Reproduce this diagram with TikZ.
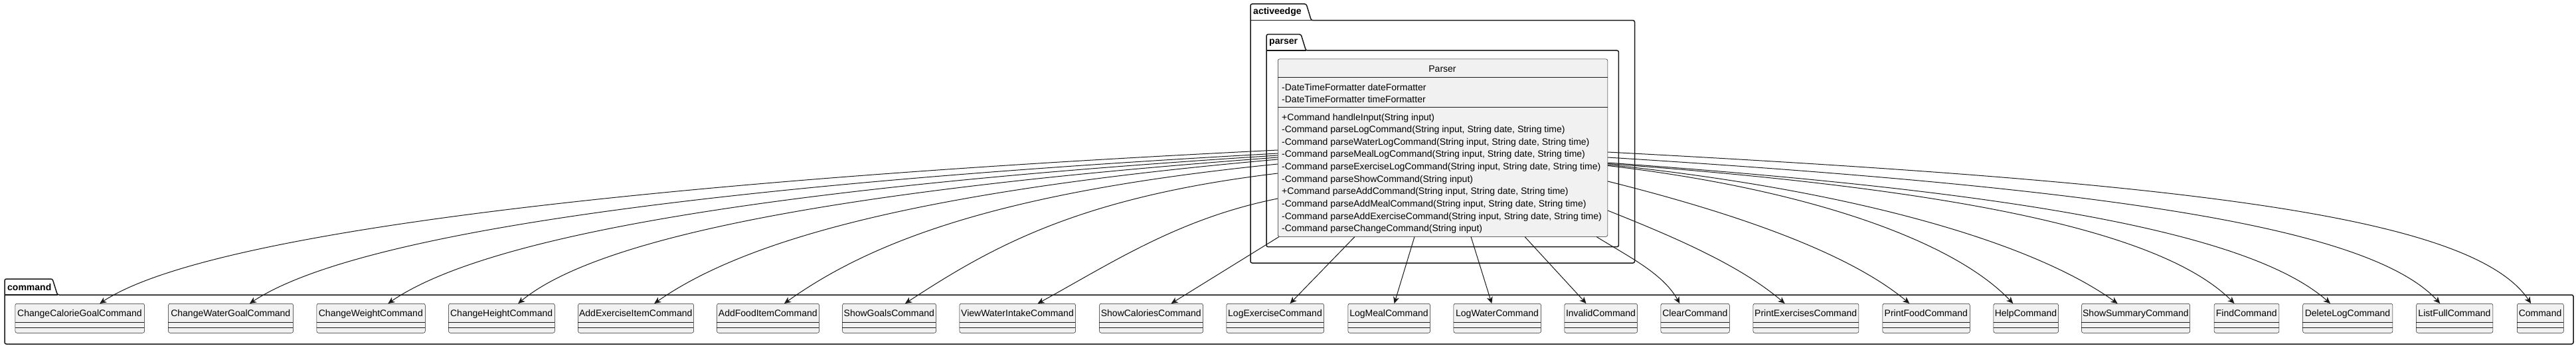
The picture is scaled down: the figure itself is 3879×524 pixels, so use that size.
\documentclass[tikz,border=0pt]{standalone}
\usepackage{fontspec}
\setmainfont{Liberation Sans}
\usetikzlibrary{arrows.meta}
\definecolor{ink}{HTML}{181818}
\definecolor{clsfill}{HTML}{F1F1F1}
\tikzset{
  clsbox/.style={draw=ink, line width=0.5pt, fill=clsfill, rounded corners=2.5pt, inner sep=0pt, anchor=north west},
  clstxt/.style={font=\fontsize{14}{16}\selectfont, inner sep=0pt, anchor=base, text=black},
  membertxt/.style={font=\fontsize{14}{16}\selectfont, inner sep=0pt, anchor=base west, text=black},
  sepline/.style={draw=ink, line width=0.5pt},
  pkgline/.style={draw=ink, line width=1.5pt, rounded corners=2.5pt},
  pkgtxt/.style={font=\fontsize{14}{16}\selectfont\bfseries, inner sep=0pt, anchor=west, text=black},
  dep/.style={draw=ink, line width=1pt, -{Stealth[length=10pt,width=9pt,inset=3pt]}},
}
% #1 x0, #2 x1, #3 tab top, #4 body top, #5 bottom, #6 tab width, #7 label
\newcommand\pkgdraw[7]{%
  \draw[pkgline] (#1,#5) -- (#1,#3) -- ({#1+#6},#3) -- ({#1+#6+7.5},#4) -- (#2,#4) -- (#2,#5) -- cycle;
  \draw[draw=ink, line width=1.5pt] (#1,#4) -- ({#1+#6+7.5},#4);
  \node[pkgtxt] at ({#1+4},{(#3+#4)/2}) {#7};
}
% #1 name, #2 left, #3 right, #4 label
\newcommand\cmdcls[4]{%
  \node[clsbox, minimum width={#3-#2}, minimum height=44] (#1) at (#2,457) {};
  \node[clstxt] (#1t) at ({(#2+#3)/2},476.5) {#4};
  \draw[sepline] (#2,485) -- (#3,485) (#2,493) -- (#3,493);
}
\begin{document}
\begin{tikzpicture}[x=1pt, y=-1pt]
\useasboundingbox (0,0) rectangle (3879,524);
\fill[white] (0,0) rectangle (3879,524);

% packages
\pkgdraw{1883}{2461.5}{6}{30.7}{396}{84}{activeedge}
\pkgdraw{1907}{2437.4}{51.7}{76}{371.7}{52}{parser}
\pkgdraw{7}{3875}{420}{444}{518}{72}{command}

% Parser class
\node[clsbox, minimum width=496.5, minimum height=267.3] (parser) at (1924,88.7) {};
\node[clstxt] (parsername) at (2172,108.3) {Parser};
\draw[sepline] (1924,116.7) -- (2420.5,116.7) (1924,161.7) -- (2420.5,161.7);
\node[membertxt] (a1) at (1930,136) {-DateTimeFormatter dateFormatter};
\node[membertxt] (a2) at (1930,154.5) {-DateTimeFormatter timeFormatter};
\node[membertxt] (m1) at (1930,181) {+Command handleInput(String input)};
\node[membertxt] (m2) at (1930,199.65) {-Command parseLogCommand(String input, String date, String time)};
\node[membertxt] (m3) at (1930,218.3) {-Command parseWaterLogCommand(String input, String date, String time)};
\node[membertxt] (m4) at (1930,236.95) {-Command parseMealLogCommand(String input, String date, String time)};
\node[membertxt] (m5) at (1930,255.6) {-Command parseExerciseLogCommand(String input, String date, String time)};
\node[membertxt] (m6) at (1930,274.25) {-Command parseShowCommand(String input)};
\node[membertxt] (m7) at (1930,292.9) {+Command parseAddCommand(String input, String date, String time)};
\node[membertxt] (m8) at (1930,311.55) {-Command parseAddMealCommand(String input, String date, String time)};
\node[membertxt] (m9) at (1930,330.2) {-Command parseAddExerciseCommand(String input, String date, String time)};
\node[membertxt] (m10) at (1930,348.85) {-Command parseChangeCommand(String input)};

% command classes
\cmdcls{c1}{22.7}{217.3}{ChangeCalorieGoalCommand}
\cmdcls{c2}{253.3}{441.3}{ChangeWaterGoalCommand}
\cmdcls{c3}{476.7}{640}{ChangeWeightCommand}
\cmdcls{c4}{675.3}{835}{ChangeHeightCommand}
\cmdcls{c5}{870.3}{1044.3}{AddExerciseItemCommand}
\cmdcls{c6}{1079.3}{1233.3}{AddFoodItemCommand}
\cmdcls{c7}{1268.3}{1409.3}{ShowGoalsCommand}
\cmdcls{c8}{1444.7}{1619.3}{ViewWaterIntakeCommand}
\cmdcls{c9}{1655.3}{1811.3}{ShowCaloriesCommand}
\cmdcls{c10}{1846.7}{1993.3}{LogExerciseCommand}
\cmdcls{c11}{2029.7}{2153.3}{LogMealCommand}
\cmdcls{c12}{2188.7}{2320.3}{LogWaterCommand}
\cmdcls{c13}{2355.7}{2465.3}{InvalidCommand}
\cmdcls{c14}{2500.7}{2604}{ClearCommand}
\cmdcls{c15}{2639.7}{2798.7}{PrintExercisesCommand}
\cmdcls{c16}{2834.7}{2966}{PrintFoodCommand}
\cmdcls{c17}{3001.7}{3099.3}{HelpCommand}
\cmdcls{c18}{3134.3}{3297.4}{ShowSummaryCommand}
\cmdcls{c19}{3333.9}{3431.7}{FindCommand}
\cmdcls{c20}{3467.4}{3602.6}{DeleteLogCommand}
\cmdcls{c21}{3638.3}{3753.5}{ListFullCommand}
\cmdcls{c22}{3790}{3860}{Command}

% dependencies, left side
\draw[dep] ([yshift=-137.3]parser.north west) .. controls +(-900,44) and +(170,-112) .. ([xshift=30]c1.north);
\draw[dep] ([yshift=-142.3]parser.north west) .. controls +(-800,44) and +(170,-112) .. ([xshift=28.4]c2.north);
\draw[dep] ([yshift=-145.3]parser.north west) .. controls +(-700,44) and +(160,-110) .. ([xshift=25.7]c3.north);
\draw[dep] ([yshift=-148.3]parser.north west) .. controls +(-600,44) and +(130,-108) .. ([xshift=24.8]c4.north);
\draw[dep] ([yshift=-151.3]parser.north west) .. controls +(-500,44) and +(150,-105) .. ([xshift=27.7]c5.north);
\draw[dep] ([yshift=-158.3]parser.north west) .. controls +(-400,40) and +(140,-100) .. ([xshift=24.4]c6.north);
\draw[dep] ([yshift=-172.3]parser.north west) .. controls +(-300,36) and +(130,-85) .. ([xshift=23.9]c7.north);
\draw[dep] ([yshift=-210.3]parser.north west) .. controls +(-150,30) and +(110,-60) .. ([xshift=30.3]c8.north);
% bottom
\draw[dep] ([xshift=2]parser.south west) -- ([xshift=30]c9.north);
\draw[dep] ([xshift=116]parser.south west) -- ([xshift=22.3]c10.north);
\draw[dep] ([xshift=206]parser.south west) -- ([xshift=7.8]c11.north);
\draw[dep] ([xshift=291]parser.south west) -- ([xshift=-8.5]c12.north);
\draw[dep] ([xshift=372]parser.south west) -- ([xshift=-22.2]c13.north);
\draw[dep] ([xshift=480]parser.south west) .. controls +(50,31) and +(-25,-45) .. ([xshift=-23.3]c14.north);
% right side
\draw[dep] ([yshift=-228.3]parser.north east) .. controls +(90,36) and +(-70,-60) .. ([xshift=-31.9]c15.north);
\draw[dep] ([yshift=-184.3]parser.north east) .. controls +(200,50) and +(-90,-75) .. ([xshift=-25.3]c16.north);
\draw[dep] ([yshift=-160.8]parser.north east) .. controls +(300,35) and +(-90,-95) .. ([xshift=-19.5]c17.north);
\draw[dep] ([yshift=-159.3]parser.north east) .. controls +(340,35) and +(-140,-100) .. ([xshift=-27.5]c18.north);
\draw[dep] ([yshift=-157.8]parser.north east) .. controls +(520,38) and +(-110,-110) .. ([xshift=-18.5]c19.north);
\draw[dep] ([yshift=-156.3]parser.north east) .. controls +(560,40) and +(-130,-115) .. ([xshift=-26.3]c20.north);
\draw[dep] ([yshift=-148.3]parser.north east) .. controls +(720,45) and +(-110,-120) .. ([xshift=-21.9]c21.north);
\draw[dep] ([yshift=-140.3]parser.north east) .. controls +(850,45) and +(-90,-135) .. ([xshift=-14.1]c22.north);
\end{tikzpicture}
\end{document}
